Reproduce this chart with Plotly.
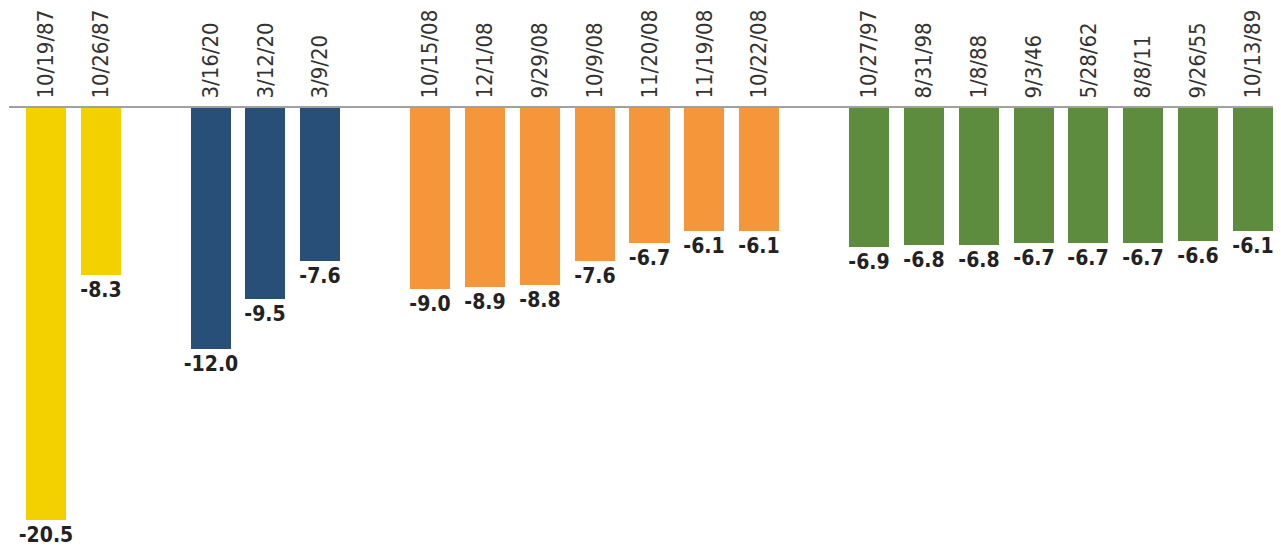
import plotly.graph_objects as go

# Data
dates_1987 = ["10/19/87", "10/26/87"]
vals_1987 = [-20.5, -8.3]
dates_2020 = ["3/16/20", "3/12/20", "3/9/20"]
vals_2020 = [-12.0, -9.5, -7.6]
dates_2008 = ["10/15/08", "12/1/08", "9/29/08", "10/9/08", "11/20/08", "11/19/08", "10/22/08"]
vals_2008 = [-9.0, -8.9, -8.8, -7.6, -6.7, -6.1, -6.1]
dates_other = ["10/27/97", "8/31/98", "1/8/88", "9/3/46", "5/28/62", "8/8/11", "9/26/55", "10/13/89"]
vals_other = [-6.9, -6.8, -6.8, -6.7, -6.7, -6.7, -6.6, -6.1]

groups = [
    (dates_1987, vals_1987, "#F3D000"),
    (dates_2020, vals_2020, "#284F77"),
    (dates_2008, vals_2008, "#F6963A"),
    (dates_other, vals_other, "#5D8C3E"),
]

FONT = "Liberation Sans Narrow, DejaVu Sans Condensed, Roboto Condensed, Arial Narrow, sans-serif"

fig = go.Figure()
tickvals, ticktext = [], []
pos = 0
for labels, vals, color in groups:
    xs = list(range(pos, pos + len(labels)))
    fig.add_trace(go.Bar(
        x=xs, y=vals, marker=dict(color=color, line=dict(width=0)),
        width=0.73,
        text=[f"{v:.1f}" for v in vals],
        textposition="outside",
        textfont=dict(family=FONT, size=21, color="#222222", weight="bold"),
        constraintext="none",
        cliponaxis=False,
        hoverinfo="skip",
        showlegend=False,
    ))
    tickvals += xs
    ticktext += labels
    pos += len(labels) + 1

# page body has an 8px default margin; size the figure so it fills the window
fig.update_layout(
    width=1273, height=540,
    margin=dict(l=1, r=0, t=100, b=0),
    paper_bgcolor="white", plot_bgcolor="white",
    bargap=0,
    xaxis=dict(
        side="top", range=[-0.674, 22.51],
        tickvals=tickvals, ticktext=ticktext, tickangle=-90,
        tickfont=dict(family=FONT, size=22, color="#333333"),
        showgrid=False, zeroline=False,
        showline=True, linecolor="#A0A0A0", linewidth=2,
        ticks="", ticklabelstandoff=3,
    ),
    yaxis=dict(range=[-21.89, 0], visible=False, showgrid=False, zeroline=False),
)

fig.write_html("out.html")
